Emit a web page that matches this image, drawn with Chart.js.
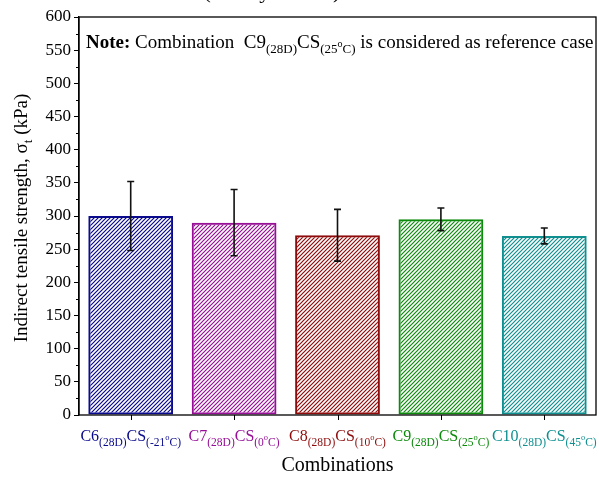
<!DOCTYPE html>
<html>
<head>
<meta charset="utf-8">
<script src="https://cdn.jsdelivr.net/npm/chart.js@4"></script>
<style>
  html, body { margin: 0; padding: 0; background: #fff; }
  #wrap { width: 599px; height: 478px; }
</style>
</head>
<body>
<div id="wrap"><canvas id="itsChart" width="599" height="478"></canvas></div>
<script>
// mean indirect tensile strength and standard deviation per combination
const combos = ['C6', 'C7', 'C8', 'C9', 'C10'];
const temps = ['-21', '0', '10', '25', '45'];
const strength = [300, 290, 271, 295, 270];
const stdDev = [52, 50, 39, 17, 12];
const barColors = ['#0a0a8c', '#960f96', '#8e0b0b', '#0c8a0c', '#0f8f8f'];
const yTicks = [0, 50, 100, 150, 200, 250, 300, 350, 400, 450, 500, 550, 600];

const SERIF = '"Liberation Serif", "Times New Roman", serif';

function hatch(color) {
    const c = document.createElement('canvas');
    c.width = 4; c.height = 4;
    const g = c.getContext('2d');
    g.strokeStyle = color;
    g.lineWidth = 1.2;
    g.beginPath();
    g.moveTo(-1, 5); g.lineTo(5, -1);
    g.moveTo(-1, 1); g.lineTo(1, -1);
    g.moveTo(3, 5); g.lineTo(5, 3);
    g.stroke();
    return g.createPattern(c, 'repeat');
}

// draws text made of runs with different sizes / baseline shifts
function richWidth(ctx, parts) {
    let w = 0;
    parts.forEach(p => {
        ctx.font = (p.bold ? 'bold ' : '') + p.size + 'px ' + SERIF;
        w += ctx.measureText(p.t).width;
    });
    return w;
}
function drawRich(ctx, parts, x, y, color) {
    ctx.fillStyle = color;
    ctx.textBaseline = 'alphabetic';
    ctx.textAlign = 'left';
    parts.forEach(p => {
        ctx.font = (p.bold ? 'bold ' : '') + p.size + 'px ' + SERIF;
        ctx.fillText(p.t, x, y + (p.dy || 0));
        x += ctx.measureText(p.t).width;
    });
}
function comboLabel(name, temp) {
    return [
        { t: name, size: 16 },
        { t: '(28D)', size: 11.5, dy: 5 },
        { t: 'CS', size: 16 },
        { t: '(' + temp, size: 11.5, dy: 5 },
        { t: 'o', size: 8.5, dy: -1 },
        { t: 'C)', size: 11.5, dy: 5 }
    ];
}

const decorations = {
    id: 'decorations',
    afterDatasetsDraw(chart) {
        const ctx = chart.ctx;
        const x = chart.scales.x, y = chart.scales.y;
        const a = chart.chartArea;
        ctx.save();

        // error bars
        ctx.strokeStyle = '#111';
        ctx.lineWidth = 1.6;
        strength.forEach((v, i) => {
            const cx = x.getPixelForValue(i);
            const top = y.getPixelForValue(v + stdDev[i]);
            const bot = y.getPixelForValue(v - stdDev[i]);
            ctx.beginPath();
            ctx.moveTo(cx, top); ctx.lineTo(cx, bot);
            ctx.moveTo(cx - 3.5, top); ctx.lineTo(cx + 3.5, top);
            ctx.moveTo(cx - 3.5, bot); ctx.lineTo(cx + 3.5, bot);
            ctx.stroke();
        });

        // frame
        ctx.strokeStyle = '#000';
        ctx.lineWidth = 1.3;
        ctx.strokeRect(a.left, a.top, a.right - a.left, a.bottom - a.top);

        // minor y ticks
        ctx.lineWidth = 1;
        for (let v = 25; v < 600; v += 50) {
            const py = Math.round(y.getPixelForValue(v)) + 0.5;
            ctx.beginPath();
            ctx.moveTo(a.left - 3, py); ctx.lineTo(a.left, py);
            ctx.stroke();
        }
        // x ticks
        combos.forEach((c, i) => {
            const px = Math.round(x.getPixelForValue(i)) + 0.5;
            ctx.beginPath();
            ctx.moveTo(px, a.bottom); ctx.lineTo(px, a.bottom + 5);
            ctx.stroke();
        });

        // category labels
        combos.forEach((c, i) => {
            const parts = comboLabel(c, temps[i]);
            const w = richWidth(ctx, parts);
            drawRich(ctx, parts, x.getPixelForValue(i) - w / 2, 441, barColors[i]);
        });

        // axis titles
        ctx.fillStyle = '#000';
        ctx.font = '20px ' + SERIF;
        ctx.textAlign = 'center';
        ctx.fillText('Combinations', (a.left + a.right) / 2, 471);

        ctx.translate(27, 218);
        ctx.rotate(-Math.PI / 2);
        const yt = [
            { t: 'Indirect tensile strength, \u03c3', size: 19 },
            { t: 't', size: 13, dy: 5 },
            { t: ' (kPa)', size: 19 }
        ];
        drawRich(ctx, yt, -richWidth(ctx, yt) / 2, 0, '#000');
        ctx.setTransform(1, 0, 0, 1, 0, 0);

        // note
        const note = [
            { t: 'Note:', size: 19, bold: true },
            { t: ' Combination  C9', size: 19 },
            { t: '(28D)', size: 13, dy: 5 },
            { t: 'CS', size: 19 },
            { t: '(25', size: 13, dy: 5 },
            { t: 'o', size: 10, dy: -1 },
            { t: 'C)', size: 13, dy: 5 },
            { t: ' is considered as reference case', size: 19 }
        ];
        drawRich(ctx, note, 86, 48, '#000');

        // heading, mostly above the top edge
        ctx.fillStyle = '#000';
        ctx.font = '22px ' + SERIF;
        ctx.textAlign = 'center';
        ctx.fillText('(28 days cured)', 272, -2);

        ctx.restore();
    }
};

new Chart(document.getElementById('itsChart'), {
    type: 'bar',
    data: {
        labels: combos,
        datasets: [{
            data: strength,
            backgroundColor: barColors.map(hatch),
            borderColor: barColors,
            borderWidth: 2,
            borderSkipped: false,
            barPercentage: 0.82,
            categoryPercentage: 1
        }]
    },
    options: {
        responsive: false,
        animation: false,
        layout: { padding: { top: 17, right: 3, left: 0, bottom: 0 } },
        plugins: { legend: { display: false }, tooltip: { enabled: false } },
        scales: {
            x: {
                grid: { display: false },
                border: { display: false },
                ticks: { display: false },
                afterFit(scale) { scale.height = 63; }
            },
            y: {
                min: 0,
                max: 600,
                afterBuildTicks(scale) { scale.ticks = yTicks.map(v => ({ value: v })); },
                grid: { drawOnChartArea: false, tickLength: 5, color: '#000' },
                border: { color: '#000', width: 1.3 },
                ticks: {
                    color: '#000',
                    padding: 3,
                    font: { family: SERIF, size: 17 }
                },
                afterFit(scale) { scale.width = 79; }
            }
        }
    },
    plugins: [decorations]
});
</script>
</body>
</html>
